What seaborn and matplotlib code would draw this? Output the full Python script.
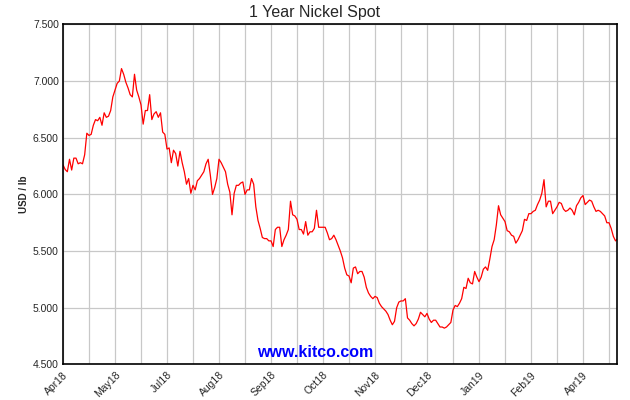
import numpy as np
import pandas as pd
import matplotlib
matplotlib.use("Agg")
import matplotlib.pyplot as plt
import seaborn as sns

# Daily nickel spot (USD / lb), one value per trading day
prices = [
    6.26, 6.22, 6.20, 6.31, 6.215, 6.32, 6.32, 6.27, 6.28, 6.27, 6.35, 6.54,
    6.52, 6.53, 6.61, 6.66, 6.65, 6.68, 6.61, 6.72, 6.68, 6.69, 6.74, 6.86,
    6.92, 6.98, 7.00, 7.11, 7.06, 6.99, 6.94, 6.88, 6.86, 7.06, 6.92, 6.86,
    6.79, 6.62, 6.74, 6.74, 6.88, 6.66, 6.71, 6.73, 6.68, 6.72, 6.55, 6.53,
    6.40, 6.41, 6.28, 6.39, 6.36, 6.25, 6.38, 6.28, 6.20, 6.09, 6.14, 6.01,
    6.08, 6.04, 6.12, 6.14, 6.17, 6.20, 6.27, 6.31, 6.17, 6.00, 6.06, 6.14,
    6.31, 6.28, 6.24, 6.20, 6.09, 6.02, 5.82, 6.01, 6.08, 6.08, 6.10, 6.11,
    6.00, 6.04, 6.04, 6.14, 6.09, 5.89, 5.77, 5.70, 5.62, 5.61, 5.61, 5.59,
    5.59, 5.54, 5.69, 5.71, 5.71, 5.54, 5.60, 5.64, 5.69, 5.94, 5.82, 5.81,
    5.78, 5.69, 5.69, 5.65, 5.76, 5.64, 5.67, 5.67, 5.70, 5.86, 5.71, 5.71,
    5.71, 5.71, 5.66, 5.60, 5.61, 5.64, 5.60, 5.55, 5.50, 5.44, 5.35, 5.29,
    5.28, 5.22, 5.35, 5.36, 5.30, 5.32, 5.32, 5.27, 5.18, 5.13, 5.10, 5.08,
    5.10, 5.09, 5.04, 5.01, 4.99, 4.97, 4.94, 4.89, 4.85, 4.88, 5.00, 5.05,
    5.06, 5.06, 5.08, 4.91, 4.89, 4.86, 4.84, 4.86, 4.90, 4.96, 4.94, 4.92,
    4.95, 4.90, 4.87, 4.89, 4.89, 4.86, 4.83, 4.83, 4.82, 4.83, 4.85, 4.87,
    4.98, 5.02, 5.01, 5.04, 5.08, 5.18, 5.17, 5.26, 5.22, 5.21, 5.32, 5.27,
    5.23, 5.27, 5.34, 5.36, 5.33, 5.43, 5.54, 5.60, 5.73, 5.90, 5.82, 5.79,
    5.76, 5.68, 5.67, 5.64, 5.63, 5.57, 5.60, 5.64, 5.68, 5.78, 5.77, 5.83,
    5.83, 5.85, 5.86, 5.91, 5.95, 6.01, 6.13, 5.89, 5.94, 5.94, 5.83, 5.86,
    5.89, 5.93, 5.92, 5.87, 5.85, 5.86, 5.88, 5.86, 5.82, 5.90, 5.93, 5.97,
    5.99, 5.91, 5.93, 5.95, 5.94, 5.89, 5.85, 5.86, 5.85, 5.83, 5.81, 5.75,
    5.75, 5.70, 5.63, 5.59, 5.61,
]
month_labels = ["Apr18", "May18", "Jul18", "Aug18", "Sep18", "Oct18",
                "Nov18", "Dec18", "Jan19", "Feb19", "Apr19"]
y_ticks = [4.5, 5.0, 5.5, 6.0, 6.5, 7.0, 7.5]

df = pd.DataFrame({"day": np.arange(len(prices)), "price": prices})

sns.set_style("white")
plt.rcParams["font.family"] = ["Liberation Sans", "DejaVu Sans"]

fig = plt.figure(figsize=(6.3, 4.0), dpi=100)
ax = fig.add_axes([0.1, 0.089, 0.8794, 0.85])

sns.lineplot(data=df, x="day", y="price", color="#ff0000", linewidth=0.9, ax=ax)

# grid every 12 trading days, a label every 24
ax.set_xticks(np.arange(0, 256, 12), minor=True)
ax.set_xticks(np.arange(0, 241, 24))
ax.set_xticklabels(month_labels, rotation=45, ha="right", rotation_mode="anchor", fontsize=7.5)
ax.set_xlim(0, 255.7)
ax.set_ylim(4.5, 7.5)
ax.set_yticks(y_ticks)
ax.set_yticklabels([f"{v:.3f}" for v in y_ticks], fontsize=7.5)

ax.grid(True, which="both", axis="x", color="#c8c8c8", linewidth=0.9)
ax.grid(True, which="major", axis="y", color="#c8c8c8", linewidth=0.9)
ax.set_axisbelow(True)
ax.tick_params(axis="y", direction="in", length=6, width=1, color="black", pad=3)
ax.tick_params(axis="x", which="both", length=0, pad=4)
for s in ax.spines.values():
    s.set_color("black")
    s.set_linewidth(1.2)

ax.set_xlabel("")
ax.set_ylabel("USD / lb", fontsize=7, fontweight="bold", labelpad=3)
fig.text(0.5, 0.97, "1 Year Nickel Spot", ha="center", va="center", fontsize=11.5)
fig.text(0.5, 0.119, "www.kitco.com", ha="center", va="center", fontsize=11.5,
         fontweight="bold", color="#0000ff")

fig.savefig("out.png", dpi=100)
